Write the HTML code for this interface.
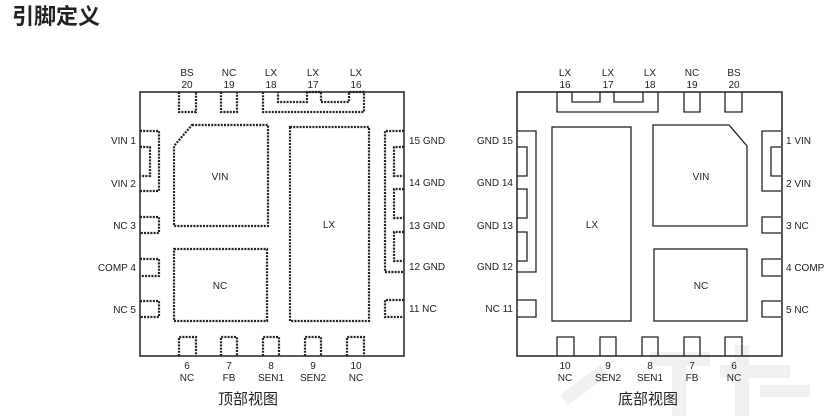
<!DOCTYPE html>
<html><head><meta charset="utf-8"><style>
html,body{margin:0;padding:0;background:#fff;width:830px;height:416px;overflow:hidden}
svg{display:block}
text{font-family:"Liberation Sans","Noto Sans CJK SC",sans-serif;fill:#222}
</style></head><body>
<svg width="830" height="416" viewBox="0 0 830 416" xmlns="http://www.w3.org/2000/svg">
<text x="12" y="24" font-size="22" font-weight="bold" style="font-family:'Noto Sans CJK SC',sans-serif" fill="#111">引脚定义</text>
<g fill="#f0f0f0">
<path d="M560 395 l40 -30 l8 10 l-40 30z"/>
<rect x="650" y="352" width="60" height="14"/>
<rect x="672" y="352" width="14" height="64"/>
<rect x="735" y="345" width="14" height="71"/>
<rect x="720" y="365" width="70" height="13"/>
<rect x="760" y="385" width="50" height="12"/>
</g>
<defs>
<g id="shapes">
<path d="M179 92 V112 H196 V92"/>
<path d="M221 92 V112 H237 V92"/>
<path d="M263 92 V112 H364 V92 H349 V102 H321 V92 H307 V102 H278 V92"/>
<path d="M140 131 H159 V191 H140 M140 147 H150 V176 H140"/>
<path d="M140 217 H159 V233 H140"/>
<path d="M140 259 H159 V276 H140"/>
<path d="M140 301 H159 V317 H140"/>
<path d="M192 125 H268 V226 H174 V146 Z"/>
<rect x="174" y="249" width="93" height="72"/>
<rect x="290" y="127" width="79" height="194"/>
<path d="M404 131 H385 V272 H404 M404 147 H394 V176 H404 M404 189 H394 V218 H404 M404 232 H394 V261 H404"/>
<path d="M404 300 H385 V317 H404"/>
<path d="M179 356 V337 H196 V356"/>
<path d="M221 356 V337 H237 V356"/>
<path d="M263 356 V337 H279 V356"/>
<path d="M305 356 V337 H321 V356"/>
<path d="M347 356 V337 H364 V356"/>
</g>
</defs>
<g stroke="#222" stroke-width="2.2" stroke-dasharray="2 1.2" fill="none">
<use href="#shapes"/>
</g>
<g transform="translate(921,0) scale(-1,1)" stroke="#222" stroke-width="1.3" fill="none">
<use href="#shapes"/>
</g>
<rect x="140" y="92" width="264" height="264" fill="none" stroke="#222" stroke-width="1.5"/>
<rect x="517" y="92" width="265" height="264" fill="none" stroke="#222" stroke-width="1.5"/>

<g font-size="10" text-anchor="middle">
<text x="187" y="76">BS</text><text x="187" y="88">20</text>
<text x="229" y="76">NC</text><text x="229" y="88">19</text>
<text x="271" y="76">LX</text><text x="271" y="88">18</text>
<text x="313" y="76">LX</text><text x="313" y="88">17</text>
<text x="356" y="76">LX</text><text x="356" y="88">16</text>
<text x="187" y="369">6</text><text x="187" y="381">NC</text>
<text x="229" y="369">7</text><text x="229" y="381">FB</text>
<text x="271" y="369">8</text><text x="271" y="381">SEN1</text>
<text x="313" y="369">9</text><text x="313" y="381">SEN2</text>
<text x="356" y="369">10</text><text x="356" y="381">NC</text>
<text x="220" y="180">VIN</text>
<text x="220" y="289">NC</text>
<text x="329" y="228">LX</text>
<text x="734" y="76">BS</text><text x="734" y="88">20</text>
<text x="692" y="76">NC</text><text x="692" y="88">19</text>
<text x="650" y="76">LX</text><text x="650" y="88">18</text>
<text x="608" y="76">LX</text><text x="608" y="88">17</text>
<text x="565" y="76">LX</text><text x="565" y="88">16</text>
<text x="734" y="369">6</text><text x="734" y="381">NC</text>
<text x="692" y="369">7</text><text x="692" y="381">FB</text>
<text x="650" y="369">8</text><text x="650" y="381">SEN1</text>
<text x="608" y="369">9</text><text x="608" y="381">SEN2</text>
<text x="565" y="369">10</text><text x="565" y="381">NC</text>
<text x="701" y="180">VIN</text>
<text x="701" y="289">NC</text>
<text x="592" y="228">LX</text>
</g>
<g font-size="10" text-anchor="end">
<text x="136" y="144">VIN 1</text>
<text x="136" y="187">VIN 2</text>
<text x="136" y="229">NC 3</text>
<text x="136" y="271">COMP 4</text>
<text x="136" y="313">NC 5</text>
<text x="513" y="144">GND 15</text>
<text x="513" y="186">GND 14</text>
<text x="513" y="229">GND 13</text>
<text x="513" y="270">GND 12</text>
<text x="513" y="312">NC 11</text>
</g>
<g font-size="10" text-anchor="start">
<text x="409" y="144">15 GND</text>
<text x="409" y="186">14 GND</text>
<text x="409" y="229">13 GND</text>
<text x="409" y="270">12 GND</text>
<text x="409" y="312">11 NC</text>
<text x="786" y="144">1 VIN</text>
<text x="786" y="187">2 VIN</text>
<text x="786" y="229">3 NC</text>
<text x="786" y="271">4 COMP</text>
<text x="786" y="313">5 NC</text>
</g>
<g font-size="15" text-anchor="middle">
<text x="248" y="404" style="font-family:'Noto Sans CJK SC',sans-serif">顶部视图</text>
<text x="648" y="404" style="font-family:'Noto Sans CJK SC',sans-serif">底部视图</text>
</g>
</svg>
</body></html>
